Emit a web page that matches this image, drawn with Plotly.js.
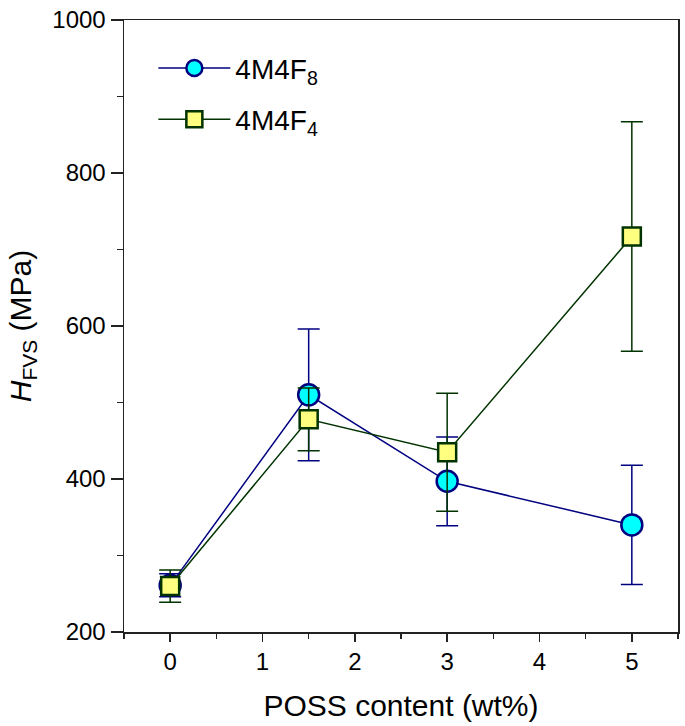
<!DOCTYPE html>
<html><head><meta charset="utf-8">
<script src="https://cdn.plot.ly/plotly-3.0.1.min.js"></script>
<style>body{margin:0;background:#fff}#c{width:685px;height:726px}</style>
</head><body><div id="c"></div>
<script>
const poss = [0, 1.5, 3, 5];
const f8 = [261, 510, 397, 340];
const f8err = [15, 86, 58, 78];
const f4 = [260, 478, 435, 717];
const f4err = [21, 41, 77, 150];
const seriesNames = ['4M4F<sub>8</sub>', '4M4F<sub>4</sub>'];
const xTicks = [0, 1, 2, 3, 4, 5];
const yTicks = [200, 400, 600, 800, 1000];

const blue = '#000080', green = '#003300';
const traces = [
  {x: poss, y: f8, name: seriesNames[0], legendgroup: 'a', type: 'scatter', mode: 'lines+markers',
   line: {color: blue, width: 1.5},
   marker: {symbol: 'circle', size: 21, color: '#00FFFF', line: {color: blue, width: 2.5}},
   error_y: {type: 'data', array: f8err, visible: true, color: blue, thickness: 1.5, width: 11}},
  {x: poss, y: f4, name: seriesNames[1], legendgroup: 'b', type: 'scatter', mode: 'lines+markers',
   line: {color: green, width: 1.5},
   marker: {symbol: 'square', size: 18, color: '#FFFF80', line: {color: green, width: 2.5}},
   error_y: {type: 'data', array: f4err, visible: true, color: green, thickness: 1.5, width: 11}}
];
const font = {family: 'Liberation Sans, Arial, sans-serif', color: '#000'};
const layout = {
  width: 685, height: 726,
  margin: {l: 124, r: 7, t: 20, b: 94},
  paper_bgcolor: '#fff', plot_bgcolor: '#fff',
  font: Object.assign({size: 24}, font),
  showlegend: true,
  legend: {x: 0.053, y: 0.962, xanchor: 'left', yanchor: 'top', bgcolor: 'rgba(0,0,0,0)',
           font: Object.assign({size: 28}, font), itemwidth: 72, tracegroupgap: 12},
  xaxis: {range: [-0.5, 5.5], tickvals: xTicks, ticks: 'outside', ticklen: 8, tickwidth: 1.5,
          tickcolor: '#222', showline: true, linecolor: '#222', linewidth: 1.5, mirror: true,
          showgrid: false, zeroline: false, tickfont: {size: 24},
          minor: {dtick: 0.5, tick0: 0, ticks: 'outside', ticklen: 5, tickwidth: 1.5, tickcolor: '#222', showgrid: false},
          title: {text: 'POSS content (wt%)', font: {size: 30}, standoff: 20}},
  yaxis: {range: [200, 1000], tickvals: yTicks, ticks: 'outside', ticklen: 12, tickwidth: 1.5,
          tickcolor: '#222', showline: true, linecolor: '#222', linewidth: 1.5, mirror: true,
          showgrid: false, zeroline: false, tickfont: {size: 24},
          minor: {dtick: 100, tick0: 0, ticks: 'outside', ticklen: 6, tickwidth: 1.5, tickcolor: '#222', showgrid: false},
          title: {text: '<i>H</i><sub>FVS</sub> (MPa)', font: {size: 30}, standoff: 12}}
};
Plotly.newPlot('c', traces, layout, {displayModeBar: false, staticPlot: true});
</script></body></html>
